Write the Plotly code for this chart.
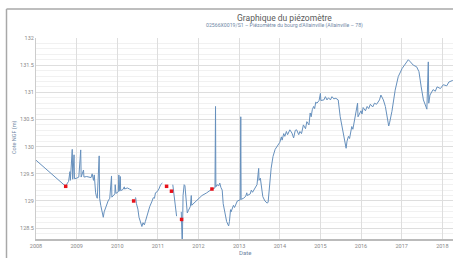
import plotly.graph_objects as go

title_text = "Graphique du piézomètre"
subtitle_text = "02566X0019/S1 – Piézomètre du bourg d'Allainville (Allainville – 78)"
y_title = "Cote NGF (m)"
x_title = "Date"

dates = [
    "2008-01-01", "2008-09-24", "2008-10-10", "2008-10-20", "2008-11-01", "2008-11-05",
    "2008-11-22", "2008-11-26", "2008-12-08", "2008-12-12", "2009-01-01", "2009-01-20",
    "2009-02-06", "2009-02-10", "2009-03-03", "2009-03-07", "2009-04-01", "2009-04-20",
    "2009-05-10", "2009-05-20", "2009-05-25", "2009-06-01", "2009-06-08", "2009-06-12",
    "2009-06-20", "2009-06-28", "2009-07-05", "2009-07-22", "2009-07-26", "2009-08-05",
    "2009-08-20", "2009-08-28", "2009-09-05", "2009-09-20", "2009-10-10", "2009-10-25",
    "2009-11-10", "2009-11-13", "2009-12-01", "2009-12-10", "2009-12-13", "2009-12-20",
    "2010-01-10", "2010-01-15", "2010-01-18", "2010-01-28", "2010-01-31", "2010-02-20",
    "2010-03-05", "2010-03-08", "2010-03-20", "2010-04-01", "2010-04-20", "2010-05-10",
    "2010-05-20",
    "2010-06-08", "2010-06-15", "2010-06-22", "2010-07-05", "2010-07-15", "2010-07-25",
    "2010-08-10", "2010-08-20", "2010-09-01", "2010-09-10", "2010-10-01", "2010-10-20",
    "2010-11-10", "2010-11-20", "2010-12-01", "2010-12-10", "2010-12-25", "2011-01-10",
    "2011-01-25", "2011-02-10", "2011-02-15",
    "2011-05-15", "2011-06-18",
    "2011-07-01",
    "2011-07-30", "2011-08-08", "2011-08-15", "2011-08-25", "2011-09-01", "2011-09-22",
    "2011-10-01", "2011-10-20", "2011-10-28", "2011-11-01", "2011-12-01", "2012-01-01",
    "2012-02-01", "2012-03-15", "2012-04-15", "2012-05-01", "2012-05-28", "2012-06-02",
    "2012-06-05", "2012-06-15", "2012-07-01", "2012-07-10", "2012-07-20", "2012-08-01",
    "2012-08-10", "2012-08-25", "2012-09-10", "2012-09-28", "2012-10-05", "2012-10-15",
    "2012-10-20", "2012-11-10", "2012-11-20", "2012-12-15", "2013-01-10", "2013-01-15",
    "2013-01-18", "2013-02-10", "2013-03-01", "2013-03-10", "2013-03-15", "2013-04-10",
    "2013-04-20", "2013-05-01", "2013-05-20", "2013-06-01", "2013-06-10", "2013-06-25",
    "2013-06-28", "2013-07-10", "2013-07-20", "2013-08-01", "2013-08-20", "2013-09-10",
    "2013-09-18", "2013-10-01", "2013-10-15", "2013-11-01", "2013-11-20", "2014-01-01",
    "2014-01-15", "2014-01-22", "2014-02-05", "2014-02-15", "2014-03-01", "2014-03-12",
    "2014-04-01", "2014-04-20", "2014-05-05", "2014-05-20", "2014-06-01", "2014-06-20",
    "2014-07-01", "2014-07-15", "2014-08-01", "2014-08-20", "2014-09-01", "2014-09-20",
    "2014-10-01", "2014-10-10", "2014-10-20", "2014-11-01", "2014-11-10", "2014-11-20",
    "2014-12-01", "2014-12-20", "2015-01-01", "2015-01-05", "2015-02-01", "2015-02-15",
    "2015-03-01", "2015-03-15", "2015-04-01", "2015-04-15", "2015-05-01", "2015-05-20",
    "2015-06-10", "2015-06-28", "2015-07-25", "2015-08-20", "2015-08-28", "2015-09-10",
    "2015-09-20", "2015-10-10", "2015-10-20", "2015-11-15", "2015-12-01", "2015-12-05",
    "2016-01-01", "2016-01-10", "2016-01-20", "2016-02-10", "2016-02-25", "2016-03-10",
    "2016-03-25", "2016-04-15", "2016-05-01", "2016-05-20", "2016-06-15", "2016-06-28",
    "2016-07-20", "2016-08-07", "2016-08-20", "2016-09-06", "2016-09-15", "2016-10-05",
    "2016-11-03", "2016-12-01", "2017-01-05", "2017-02-01", "2017-03-01", "2017-03-20",
    "2017-04-15", "2017-05-15", "2017-06-05", "2017-06-25", "2017-07-15", "2017-08-15",
    "2017-08-28", "2017-09-01", "2017-09-12", "2017-10-10", "2017-10-30", "2017-11-15",
    "2017-12-15", "2018-01-10", "2018-02-10", "2018-03-01", "2018-04-05",
]

levels = [
    129.75, 129.27, 129.33, 129.36, 129.54, 129.38,
    129.95, 129.40, 129.85, 129.41, 129.42, 129.44,
    129.94, 129.44, 129.57, 129.44, 129.45, 129.44,
    129.43, 129.50, 129.40, 129.38, 129.48, 129.35,
    129.15, 129.08, 129.05, 129.83, 129.05, 128.92,
    128.72, 128.70, 128.80, 128.90, 129.00, 129.05,
    129.46, 129.07, 129.12, 129.13, 129.30, 129.14,
    129.17, 129.48, 129.18, 129.45, 129.19, 129.21,
    129.26, 129.22, 129.23, 129.24, 129.22, 129.20,
    None,
    129.05, 129.06, 128.95, 128.85, 128.70, 128.62,
    128.53, 128.60, 128.56, 128.62, 128.78, 128.90,
    129.00, 129.06, 129.05, 129.15, 129.17, 129.22,
    129.30, 129.33, None,
    129.30, 128.72,
    None,
    128.80, 128.15, 129.10, 129.30, 129.28, 128.78,
    128.82, 128.90, 129.10, 128.92, 128.98, 129.05,
    129.10, 129.15, 129.20, 129.22, 129.24, 130.74,
    129.26, 129.30, 129.28, 129.33, 129.25, 129.20,
    128.95, 128.78, 128.62, 128.54, 128.62, 128.84,
    128.80, 128.92, 128.88, 129.00, 129.02, 130.55,
    129.03, 129.05, 129.09, 129.15, 129.10, 129.13,
    129.20, 129.16, 129.22, 129.28, 129.30, 129.60,
    129.38, 129.42, 129.30, 129.08, 129.00, 128.96,
    128.98, 129.30, 129.60, 129.82, 129.95, 130.08,
    130.18, 130.12, 130.24, 130.19, 130.28, 130.22,
    130.31, 130.25, 130.16, 130.30, 130.31, 130.22,
    130.28, 130.24, 130.40, 130.33, 130.46, 130.40,
    130.62, 130.55, 130.68, 130.74, 130.70, 130.82,
    130.80, 130.85, 130.98, 130.85, 130.86, 130.92,
    130.86, 130.90, 130.86, 130.92, 130.88, 130.89,
    130.86, 130.55, 130.22, 129.97, 130.10, 130.19,
    130.15, 130.37, 130.32, 130.58, 130.80, 130.55,
    130.66, 130.60, 130.72, 130.66, 130.74, 130.70,
    130.78, 130.73, 130.80, 130.78, 130.86, 130.95,
    130.86, 130.74, 130.55, 130.38, 130.45, 130.65,
    131.04, 131.29, 131.44, 131.53, 131.60, 131.56,
    131.50, 131.47, 131.38, 131.10, 130.86, 130.69,
    131.56, 130.80, 130.95, 131.05, 131.02, 131.10,
    131.07, 131.14, 131.12, 131.19, 131.22,
]

assert len(dates) == len(levels)

marker_dates = ["2008-09-24", "2010-05-28", "2011-03-20", "2011-05-03", "2011-08-02", "2012-05-01"]
marker_levels = [129.27, 129.00, 129.27, 129.18, 128.66, 129.22]

fig = go.Figure()
fig.add_trace(go.Scatter(
    x=dates, y=levels, mode="lines", connectgaps=False,
    line=dict(color="#6690bd", width=1), hoverinfo="skip", showlegend=False,
))
fig.add_trace(go.Scatter(
    x=marker_dates, y=marker_levels, mode="markers",
    marker=dict(color="#e8121b", size=3.5, symbol="square"), showlegend=False,
))

grid_col = "#dedede"
fig.update_layout(
    width=453, height=258,
    margin=dict(l=36, r=0, t=38, b=19, autoexpand=False),
    paper_bgcolor="white", plot_bgcolor="white",
    font=dict(family="Roboto, sans-serif", color="#888888", size=5.5),
    xaxis=dict(
        type="date", range=["2008-01-01", "2018-04-07"], automargin=False,
        tickformat="%Y", dtick="M12", tick0="2008-01-01",
        showgrid=True, gridcolor=grid_col, gridwidth=1,
        showline=True, linecolor="#bbbbbb", linewidth=1.5,
        ticks="", ticklabelstandoff=1, tickfont=dict(size=5.5, color="#888888"),
        zeroline=False,
    ),
    yaxis=dict(
        range=[128.3, 132], dtick=0.5, tick0=128.5, automargin=False,
        showgrid=True, gridcolor=grid_col, gridwidth=1,
        minor=dict(dtick=0.1, showgrid=True, gridcolor="#f1f1f1", gridwidth=1),
        showline=True, linecolor="#cccccc", linewidth=1,
        ticks="", tickfont=dict(size=5.5, color="#888888"),
        zeroline=False,
    ),
    annotations=[
        dict(text=title_text, xref="paper", yref="paper", x=0.595, y=(239 - 18) / 201,
             xanchor="center", yanchor="middle", showarrow=False,
             font=dict(family="Roboto, sans-serif", size=8.5, color="#5a5a5a")),
        dict(text=subtitle_text, xref="paper", yref="paper", x=0.595, y=(239 - 25.7) / 201,
             xanchor="center", yanchor="middle", showarrow=False,
             font=dict(family="Roboto, sans-serif", size=5.2, color="#7088a6")),
        dict(text=y_title, xref="paper", yref="paper", x=(14 - 36) / 417, y=(239 - 137) / 201,
             xanchor="center", yanchor="middle", showarrow=False, textangle=-90,
             font=dict(family="Roboto, sans-serif", size=5.5, color="#6f86a3")),
        dict(text=x_title, xref="paper", yref="paper", x=(245 - 36) / 417, y=(239 - 253) / 201,
             xanchor="center", yanchor="middle", showarrow=False,
             font=dict(family="Roboto, sans-serif", size=6, color="#6f86a3")),
    ],
    shapes=[
        dict(type="line", xref="paper", yref="paper", x0=(6.5 - 36) / 417, x1=(6.5 - 36) / 417,
             y0=(239 - 9) / 201, y1=(239 - 260) / 201, line=dict(color="#a8a8a8", width=1.5)),
        dict(type="line", xref="paper", yref="paper", x0=(6.5 - 36) / 417, x1=1.01,
             y0=(239 - 9) / 201, y1=(239 - 9) / 201, line=dict(color="#a8a8a8", width=1.5)),
    ],
)

fig.write_html(
    "out.html",
    config={"displayModeBar": False, "staticPlot": True},
    post_script="document.body.style.margin='0';document.body.style.padding='0';",
)
